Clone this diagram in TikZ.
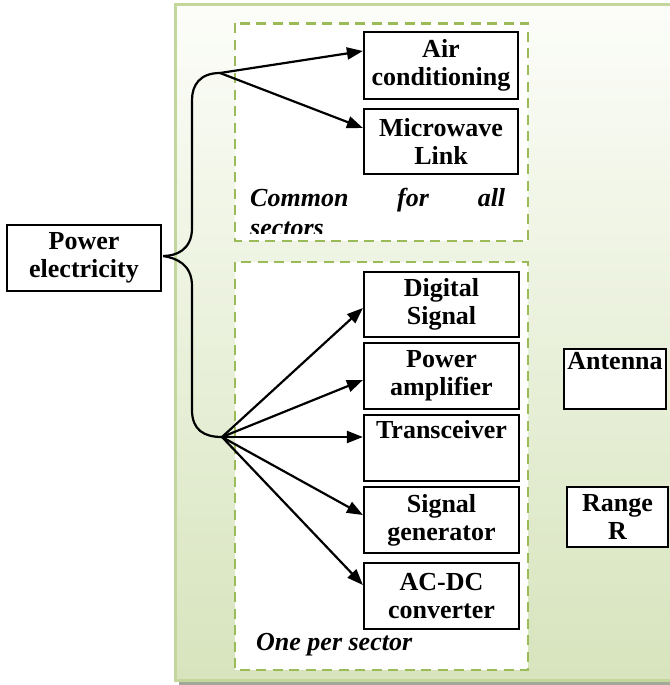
\documentclass[tikz,border=0pt]{standalone}
\usepackage{fontspec}
\setmainfont{Liberation Serif}
\usetikzlibrary{arrows.meta,calc}
\definecolor{panelborder}{HTML}{C3D69B}
\definecolor{paneltop}{HTML}{FCFDF9}
\definecolor{panelbot}{HTML}{D7E4BD}
\definecolor{dashgreen}{HTML}{9BBB59}
\definecolor{shadowgray}{HTML}{A3A89A}
\begin{document}
\begin{tikzpicture}[x=1pt,y=-1pt,
  blk/.style={draw=black, line width=2.2pt, fill=white, align=center, inner sep=0pt,
    font=\bfseries\fontsize{26}{28}\selectfont},
  dashbox/.style={draw=dashgreen, line width=2.7pt, dash pattern=on 10pt off 6.5pt, fill=white},
  arr/.style={-{Triangle[length=16pt,width=12pt]}, line width=2.2pt},
  brace/.style={line width=2.2pt},
  lbl/.style={font=\bfseries\itshape\fontsize{26}{30}\selectfont, inner sep=0pt}]
\useasboundingbox (0,0) rectangle (669,685);
% panel with shadow
\fill[shadowgray] (179,9) rectangle (690,685);
\shade[top color=paneltop, bottom color=panelbot] (175.5,5) rectangle (690,680);
\draw[panelborder, line width=3pt] (690,5) -- (175.5,5) -- (175.5,680) -- (690,680);
% dashed group boxes
\draw[dashbox] (235,23.5) rectangle (528,241);
\draw[dashbox] (235,262) rectangle (528,670);
% group labels
\begin{scope}
\clip (237,24) rectangle (526,233.5);
\node[lbl, text width=255pt, align=justify, anchor=north west] (common) at (250,188)
  {Common for all\linebreak sectors};
\end{scope}
\node[lbl, anchor=base west] (oneper) at (256,650) {One per sector};
% boxes
\node[blk, minimum width=154pt, minimum height=66pt] (pe) at (84,258) {Power\\electricity};
\node[blk, minimum width=154pt, minimum height=67pt] (air) at (441,65.5) {Air\\conditioning};
\node[blk, minimum width=154pt, minimum height=65pt] (mw) at (441,141.5) {Microwave\\Link};
\node[blk, minimum width=155pt, minimum height=65pt] (ds) at (441.5,304.5) {Digital\\Signal};
\node[blk, minimum width=155pt, minimum height=66pt] (pa) at (441.5,376) {Power\\amplifier};
\node[blk, minimum width=155pt, minimum height=66pt] (tr) at (441.5,448) {Transceiver\\\strut};
\node[blk, minimum width=155pt, minimum height=66pt] (sg) at (441.5,520) {Signal\\generator};
\node[blk, minimum width=155pt, minimum height=66pt] (ac) at (441.5,596) {AC-DC\\converter};
\node[blk, minimum width=102pt, minimum height=60pt] (ant) at (615,379) {Antenna\\\strut};
\node[blk, minimum width=101pt, minimum height=60pt] (rr) at (617.5,517) {Range\\R};
% brace
\coordinate (top) at (220,73);
\coordinate (fan) at (222,437);
\coordinate (tip) at ($(pe.east)+(1,-2)$);
\draw[brace] (top) .. controls (200,73) and (192,85) .. (192,100) -- (192,228)
  .. controls (192,250) and (176,256) .. (tip);
\draw[brace] (tip) .. controls (176,258) and (192,264) .. (192,286) -- (192,410)
  .. controls (192,430) and (204,437) .. (fan);
% arrows
\draw[arr] (top) -- ($(air.west)+(0,-14.5)$);
\draw[arr] (top) -- ($(mw.west)+(0,-13.5)$);
\draw[arr] (fan) -- ($(ds.west)+(0,3.5)$);
\draw[arr] (fan) -- ($(pa.west)+(0,4)$);
\draw[arr] (fan) -- ($(tr.west)+(0,-11)$);
\draw[arr] (fan) -- ($(sg.west)+(0,-5)$);
\draw[arr] (fan) -- ($(ac.west)+(0,-11)$);
\end{tikzpicture}
\end{document}
